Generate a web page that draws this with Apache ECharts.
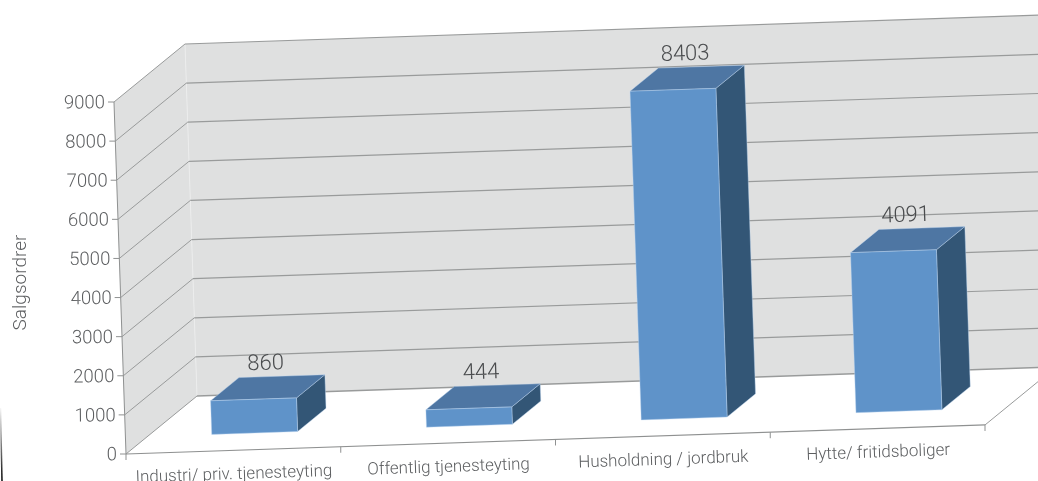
<!DOCTYPE html>
<html><head><meta charset="utf-8">
<style>html,body{margin:0;padding:0;background:#fff}#c{width:1038px;height:481px}</style>
<script src="https://cdn.jsdelivr.net/npm/echarts@6/dist/echarts.min.js"></script>
</head><body><div id="c"></div>
<script>
const categories = ['Industri/ priv. tjenesteyting', 'Offentlig tjenesteyting', 'Husholdning / jordbruk', 'Hytte/ fritidsboliger'];
const values = [860, 444, 8403, 4091];
const yTicks = [0, 1000, 2000, 3000, 4000, 5000, 6000, 7000, 8000, 9000];
const axisTitle = 'Salgsordrer';

const FONT = 'Roboto, sans-serif';
const LEFT = 126, BOTTOM = 454, PLOT_W = 859, PLOT_H = 352;
const SKEW_X = 0.0341, SKEW_Y = 0.0338, DEPTH = [71, -58];
const BAR_HALF = 0.2;
const TILT = Math.atan(SKEW_Y);
const COL = {wall:'#dfe0e0', line:'#999b9b', axis:'#8f9191', text:'#5c5e60', label:'#4a4c4e',
  front:'#5f93c9', top:'#4e76a3', side:'#335676', edge:'rgba(190,215,240,0.6)'};

const chart = echarts.init(document.getElementById('c'), null, {renderer:'canvas'});

// axes supply the pixel scales; the 3D look is a shear of what they return, plus a depth offset
function P(api, x, v, d) {
  const c = api.coord([x, v]);
  const dy = BOTTOM - c[1], dx = c[0] - LEFT;
  return [c[0] - dy * SKEW_X + d * DEPTH[0], c[1] - dx * SKEW_Y + d * DEPTH[1]];
}
const poly = (pts, fill, stroke) => ({type:'polygon', shape:{points:pts},
  style:{fill, stroke: stroke || 'none', lineWidth: stroke ? 0.7 : 0}});
const line = (a, b, stroke, w) => ({type:'line', shape:{x1:a[0], y1:a[1], x2:b[0], y2:b[1]},
  style:{stroke, lineWidth: w || 1, fill:null}});
const text = (s, p, size, fill, align, rot) => ({type:'text', x:p[0], y:p[1], rotation: rot === undefined ? TILT : rot,
  style:{text:s, fill, font:'300 ' + size + 'px ' + FONT, align: align || 'center', verticalAlign:'middle'}});

const xMax = categories.length, vMax = yTicks[yTicks.length - 1];

function renderFrame(params, api) {
  const ch = [];
  ch.push(poly([P(api,0,0,0), P(api,0,vMax,0), P(api,0,vMax,1), P(api,0,0,1)], COL.wall));
  ch.push(poly([P(api,0,0,1), P(api,0,vMax,1), P(api,xMax,vMax,1), P(api,xMax,0,1)], COL.wall));
  ch.push(line(P(api,0,0,1), P(api,0,vMax,1), '#eceded', 1));
  yTicks.forEach(t => {
    const a = P(api,0,t,0), b = P(api,0,t,1), c = P(api,xMax,t,1);
    ch.push(line(a, b, COL.line, 1));
    ch.push(line(b, c, COL.line, t === 0 ? 1.4 : 1.2));
    ch.push(line([a[0]-6, a[1]], a, COL.axis, 1));
    ch.push(text(String(t), [a[0]-9, a[1]+1.5], 18.5, COL.text, 'right', 0.012));
  });
  ch.push(line(P(api,0,0,0), P(api,0,vMax,0), COL.axis, 1));
  ch.push(line(P(api,0,0,0), P(api,xMax,0,0), COL.axis, 1.2));
  ch.push(line(P(api,xMax,0,0), P(api,xMax,0,1), COL.line, 1));
  for (let i = 0; i <= xMax; i++) {
    const a = P(api,i,0,0);
    ch.push(line(a, [a[0], a[1]+6], COL.axis, 1));
  }
  categories.forEach((c, i) => {
    const a = P(api, i+0.5, 0, 0);
    ch.push(text(c, [a[0]+0.5, a[1]+24.5], 17, COL.text));
  });
  return {type:'group', children:ch};
}

function renderBar(params, api) {
  const i = api.value(0), v = api.value(1);
  const x0 = i + 0.5 - BAR_HALF, x1 = i + 0.5 + BAR_HALF, d0 = 0.3, d1 = 0.7;
  const ch = [
    poly([P(api,x1,0,d0), P(api,x1,v,d0), P(api,x1,v,d1), P(api,x1,0,d1)], COL.side, COL.edge),
    poly([P(api,x0,v,d0), P(api,x1,v,d0), P(api,x1,v,d1), P(api,x0,v,d1)], COL.top, COL.edge),
    poly([P(api,x0,0,d0), P(api,x1,0,d0), P(api,x1,v,d0), P(api,x0,v,d0)], COL.front, COL.edge)
  ];
  const t = P(api, i+0.5, v, 0.5);
  ch.push(text(String(v), [t[0]-2, t[1]-23.5], 22, COL.label));
  return {type:'group', children:ch};
}

chart.setOption({
  animation:false,
  backgroundColor:'#fff',
  grid:{left:LEFT, top:BOTTOM-PLOT_H, width:PLOT_W, height:PLOT_H, containLabel:false},
  xAxis:{type:'value', min:0, max:xMax, show:false},
  yAxis:{type:'value', min:0, max:vMax, interval:1000, show:false},
  graphic:[
    {type:'text', x:21, y:282.5, rotation:Math.PI/2,
     style:{text:axisTitle, fill:COL.text, font:'300 19px '+FONT, align:'center', verticalAlign:'middle'}},
    {type:'line', shape:{x1:0.5,y1:408,x2:2,y2:481},
     style:{lineWidth:1.5, stroke:new echarts.graphic.LinearGradient(0,0,0,1,[{offset:0,color:'rgba(0,0,0,0)'},{offset:1,color:'#000'}])}}
  ],
  series:[
    {type:'custom', silent:true, clip:false, data:[[0,0]], renderItem:renderFrame, z:1},
    {type:'custom', silent:true, clip:false, encode:{x:0,y:1},
     data:values.map((v,i)=>[i,v]), renderItem:renderBar, z:2}
  ]
});
</script></body></html>
